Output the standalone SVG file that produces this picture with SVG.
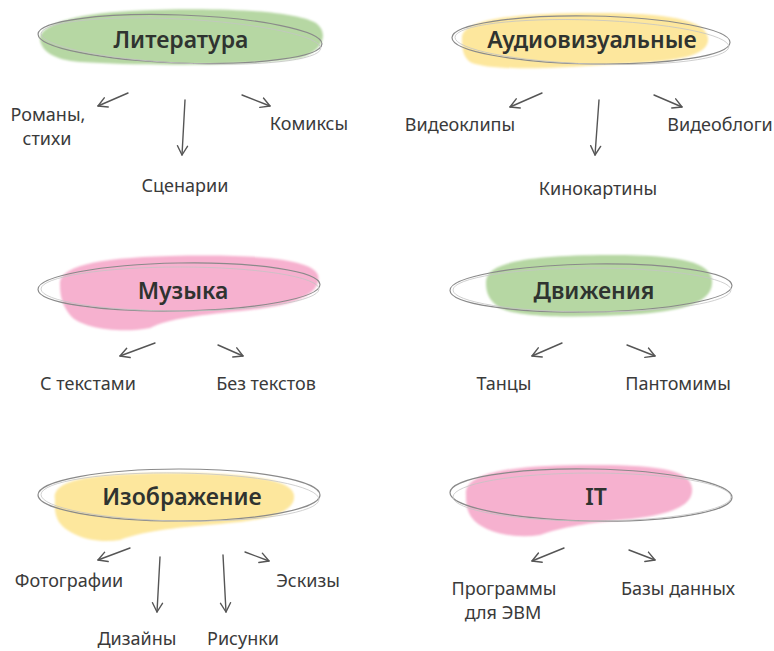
<svg xmlns="http://www.w3.org/2000/svg" width="774" height="651" viewBox="0 0 774 651">
<defs>
<filter id="soft" x="-5%" y="-20%" width="110%" height="140%"><feGaussianBlur stdDeviation="1.2"/></filter>
<marker id="ah" markerUnits="userSpaceOnUse" markerWidth="14" markerHeight="14" refX="10" refY="6" orient="auto" viewBox="0 0 14 12">
<path d="M1,1 L10,6 L1,11" fill="none" stroke="#555" stroke-width="1.4" stroke-linecap="round" stroke-linejoin="round"/>
</marker>
<style>
.green{fill:#b6d7a3}
.yellow{fill:#fde79d}
.pink{fill:#f6b1cf}
.ring{fill:none;stroke:#8a8a8a;stroke-width:1.2}
.ring2{fill:none;stroke:#c4c4c4;stroke-width:0.8}
.title{font-family:"Noto Sans","Open Sans",sans-serif;font-size:23px;font-weight:600;fill:#2f3330;text-anchor:middle}
.label{font-family:"Noto Sans","Open Sans",sans-serif;font-size:18px;fill:#3a3a3a;text-anchor:middle}
.arr{fill:none;stroke:#555;stroke-width:1.4;stroke-linecap:round;marker-end:url(#ah)}
</style>
</defs>
<rect width="774" height="651" fill="#ffffff"/>

<g id="node-literatura">
<path class="green" filter="url(#soft)" d="M40,40 C38,26 70,14 130,11 C200,7 290,9 316,23 C330,34 322,52 300,58 C250,66 140,66 80,62 C55,60 42,52 40,40 Z"/>
<ellipse class="ring" cx="180" cy="39" rx="142" ry="24" transform="rotate(2 180 39)"/>
<ellipse class="ring2" cx="181" cy="41" rx="140" ry="22" transform="rotate(3 180 39)"/>
<text class="title" x="181" y="48">Литература</text>
</g>
<g id="node-audio">
<path class="yellow" filter="url(#soft)" d="M462,38 C462,22 500,14 580,13 C660,12 706,18 708,38 C710,55 680,62 620,64 C560,68 490,72 470,62 C462,56 462,46 462,38 Z"/>
<ellipse class="ring" cx="591" cy="40" rx="139" ry="24" transform="rotate(1 591 40)"/>
<ellipse class="ring2" cx="592" cy="42" rx="137" ry="22" transform="rotate(2 591 40)"/>
<text class="title" x="592" y="48">Аудиовизуальные</text>
</g>
<g id="node-music">
<path class="pink" filter="url(#soft)" d="M60,285 C58,268 90,258 170,256 C250,254 312,258 318,275 C322,292 300,305 250,310 C200,315 170,318 150,328 C120,334 80,328 70,315 C62,305 60,295 60,285 Z"/>
<ellipse class="ring" cx="179" cy="287" rx="141" ry="24" transform="rotate(-1 179 287)"/>
<ellipse class="ring2" cx="180" cy="289" rx="139" ry="22"/>
<text class="title" x="183" y="299">Музыка</text>
</g>
<g id="node-dvizheniya">
<path class="green" filter="url(#soft)" d="M486,282 C486,264 520,256 600,255 C680,254 710,262 712,280 C714,300 690,310 640,314 C580,318 520,318 500,308 C488,300 486,292 486,282 Z"/>
<ellipse class="ring" cx="591" cy="288" rx="141" ry="24" transform="rotate(-1 591 288)"/>
<ellipse class="ring2" cx="592" cy="290" rx="139" ry="22"/>
<text class="title" x="594" y="299">Движения</text>
</g>
<g id="node-izobrazhenie">
<path class="yellow" filter="url(#soft)" d="M55,500 C52,482 80,474 160,473 C240,472 292,478 294,495 C296,512 270,520 220,524 C170,528 140,532 120,540 C90,545 62,532 57,518 C54,510 55,505 55,500 Z"/>
<ellipse class="ring" cx="179" cy="495" rx="141" ry="26"/>
<ellipse class="ring2" cx="180" cy="497" rx="139" ry="24" transform="rotate(1 180 497)"/>
<text class="title" x="182" y="505">Изображение</text>
</g>
<g id="node-it">
<path class="pink" filter="url(#soft)" d="M466,495 C464,475 500,466 580,465 C660,464 690,470 692,488 C694,506 670,516 620,520 C580,524 560,528 540,535 C510,540 478,530 470,515 C466,508 466,500 466,495 Z"/>
<ellipse class="ring" cx="591" cy="495" rx="141" ry="26" transform="rotate(1 591 495)"/>
<ellipse class="ring2" cx="592" cy="497" rx="139" ry="24"/>
<text class="title" x="596" y="505">IT</text>
</g>

<g id="connectors">
<path class="arr" d="M128,93 L98,106"/>
<path class="arr" d="M185,100 L182,155"/>
<path class="arr" d="M242,95 L270,106"/>
<path class="arr" d="M542,93 L510,107"/>
<path class="arr" d="M599,100 L595,155"/>
<path class="arr" d="M654,95 L682,107"/>
<path class="arr" d="M155,343 L120,356"/>
<path class="arr" d="M218,345 L243,356"/>
<path class="arr" d="M562,343 L532,356"/>
<path class="arr" d="M627,345 L655,356"/>
<path class="arr" d="M130,548 L98,560"/>
<path class="arr" d="M160,557 L157,612"/>
<path class="arr" d="M223,555 L226,612"/>
<path class="arr" d="M245,552 L269,561"/>
<path class="arr" d="M564,548 L532,561"/>
<path class="arr" d="M629,550 L655,560"/>
</g>

<g id="labels">
<text class="label" x="48" y="121">Романы,</text>
<text class="label" x="47" y="145">стихи</text>
<text class="label" x="309" y="130">Комиксы</text>
<text class="label" x="185" y="192">Сценарии</text>
<text class="label" x="460" y="131">Видеоклипы</text>
<text class="label" x="720" y="131">Видеоблоги</text>
<text class="label" x="598" y="195">Кинокартины</text>
<text class="label" x="88" y="390">С текстами</text>
<text class="label" x="266" y="390">Без текстов</text>
<text class="label" x="504" y="390">Танцы</text>
<text class="label" x="678" y="390">Пантомимы</text>
<text class="label" x="69" y="587">Фотографии</text>
<text class="label" x="308" y="587">Эскизы</text>
<text class="label" x="137" y="645">Дизайны</text>
<text class="label" x="243" y="645">Рисунки</text>
<text class="label" x="504" y="595">Программы</text>
<text class="label" x="503" y="619">для ЭВМ</text>
<text class="label" x="678" y="595">Базы данных</text>
</g>
</svg>
